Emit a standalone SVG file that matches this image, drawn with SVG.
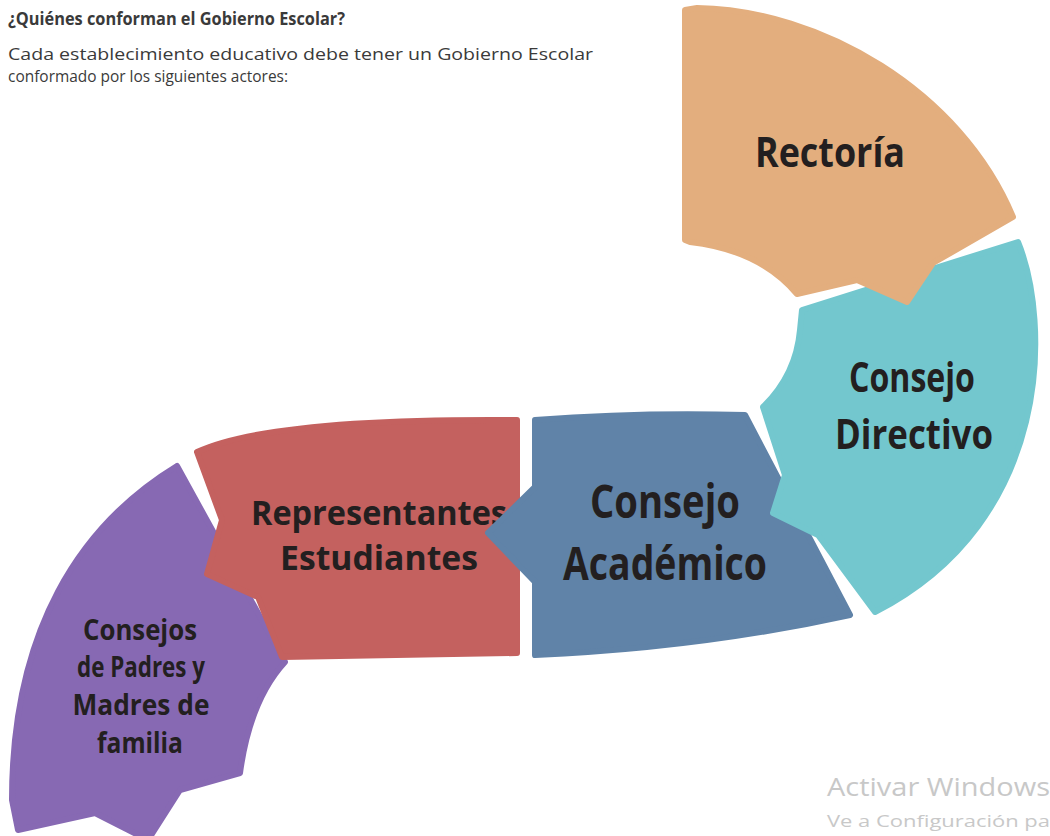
<svg xmlns="http://www.w3.org/2000/svg" width="1050" height="836" viewBox="0 0 1050 836">
<style>
.shape{stroke-width:6;stroke-linejoin:round}
.lbl{font-family:"Open Sans","Liberation Sans",sans-serif;font-weight:700;fill:#231f20;text-anchor:middle}
.hdr{font-family:"Open Sans","Liberation Sans",sans-serif;fill:#3a3a3a}
.wm{font-family:"Open Sans","Noto Sans",sans-serif;fill:#c8c8c8}
</style>
<rect width="1050" height="836" fill="#ffffff"/>
<text class="hdr" x="8" y="25" font-size="18" font-weight="700" fill="#222" textLength="337" lengthAdjust="spacingAndGlyphs">¿Quiénes conforman el Gobierno Escolar?</text>
<text class="hdr" x="8" y="60" font-size="17" textLength="585" lengthAdjust="spacingAndGlyphs">Cada establecimiento educativo debe tener un Gobierno Escolar</text>
<text class="hdr" x="8" y="82" font-size="17" textLength="280" lengthAdjust="spacingAndGlyphs">conformado por los siguientes actores:</text>

<g id="node-padres">
<path class="shape" fill="#8769B3" stroke="#8769B3" d="M177,466 C80,525 12,630 12,800 L18,830 L95,813 L148,840 L180,790 L240,773 Q250,700 285,662 Z"/>
<text class="lbl" x="140" y="640" font-size="29" textLength="114" lengthAdjust="spacingAndGlyphs">Consejos</text>
<text class="lbl" x="141" y="677" font-size="29" textLength="128" lengthAdjust="spacingAndGlyphs">de Padres y</text>
<text class="lbl" x="141" y="715" font-size="29" textLength="137" lengthAdjust="spacingAndGlyphs">Madres de</text>
<text class="lbl" x="140" y="753" font-size="29" textLength="86" lengthAdjust="spacingAndGlyphs">familia</text>
</g>

<g id="node-representantes">
<path class="shape" fill="#C4615F" stroke="#C4615F" d="M197,452 Q270,418 517,420 L517,653 L282,657 L258,597 L207,574 L222,520 Z"/>
<text class="lbl" x="379" y="525" font-size="34" textLength="256" lengthAdjust="spacingAndGlyphs">Representantes</text>
<text class="lbl" x="379" y="570" font-size="34" textLength="198" lengthAdjust="spacingAndGlyphs">Estudiantes</text>
</g>

<g id="node-academico">
<path class="shape" fill="#6083A8" stroke="#6083A8" d="M535,420 Q640,412 745,415 L850,615 Q700,648 535,655 L535,582 L488,533 L535,487 Z"/>
<text class="lbl" x="665" y="518" font-size="46" textLength="150" lengthAdjust="spacingAndGlyphs">Consejo</text>
<text class="lbl" x="665" y="580" font-size="46" textLength="204" lengthAdjust="spacingAndGlyphs">Académico</text>
</g>

<g id="node-directivo">
<path class="shape" fill="#73C7CE" stroke="#73C7CE" d="M802,310 L1018,242 C1050,320 1055,520 875,612 L818,535 L773,513 L785,475 L763,407 Q796,375 800,330 Z"/>
<text class="lbl" x="912" y="392" font-size="42" textLength="126" lengthAdjust="spacingAndGlyphs">Consejo</text>
<text class="lbl" x="914" y="449" font-size="42" textLength="158" lengthAdjust="spacingAndGlyphs">Directivo</text>
</g>

<g id="node-rectoria">
<path class="shape" fill="#E3AE7E" stroke="#E3AE7E" d="M685,10 L697,8 C820,10 960,90 1013,217 L933,263 L907,302 L857,280 L797,294 Q760,250 690,242 L685,240 Z"/>
<text class="lbl" x="830" y="167" font-size="42" textLength="150" lengthAdjust="spacingAndGlyphs">Rectoría</text>
</g>

<g id="connectors"></g>

<text class="wm" x="827" y="796" font-size="25" textLength="223" lengthAdjust="spacingAndGlyphs">Activar Windows</text>
<text class="wm" x="827" y="827" font-size="17" textLength="223" lengthAdjust="spacingAndGlyphs">Ve a Configuración pa</text>
</svg>
